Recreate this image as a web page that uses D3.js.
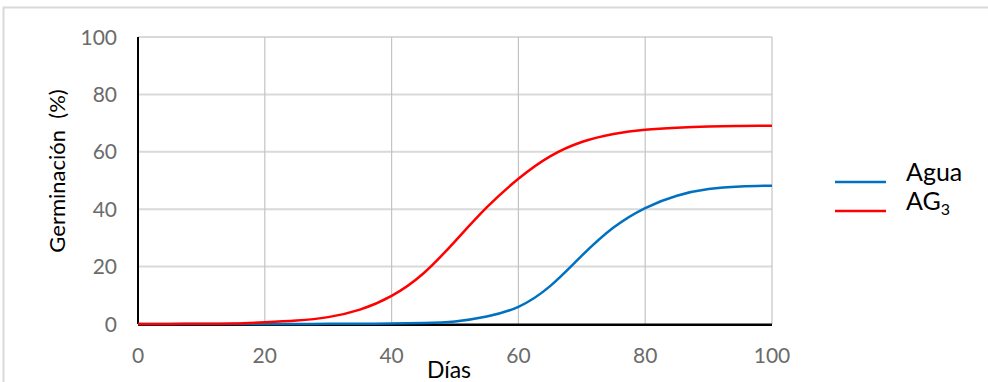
<!DOCTYPE html>
<html>
<head>
<meta charset="utf-8">
<script src="https://cdn.jsdelivr.net/npm/d3@7"></script>
<style>
  html, body { margin: 0; padding: 0; background: #fff; }
  svg { display: block; font-family: Lato, "Open Sans", sans-serif; }
</style>
</head>
<body>
<svg id="chart" width="988" height="382"></svg>
<script>
// Germination over time, days 0–100 every 5 days
const days = [0, 5, 10, 15, 20, 25, 30, 35, 40, 45, 50, 55, 60, 65, 70, 75, 80, 85, 90, 95, 100];
const agua = [0, 0, 0, 0, 0, 0.02, 0.05, 0.1, 0.15, 0.35, 0.9, 2.6, 6.0, 13.2, 23.8, 33.6, 40.4, 44.7, 47.0, 47.9, 48.2];
const ag3  = [0, 0.02, 0.08, 0.2, 0.6, 1.2, 2.4, 5.0, 9.8, 17.6, 28.8, 40.6, 50.6, 58.4, 63.4, 66.2, 67.7, 68.4, 68.8, 69.0, 69.1];
const xTicks = [0, 20, 40, 60, 80, 100];
const yTicks = [0, 20, 40, 60, 80, 100];
const seriesNames = ["Agua", "AG3"];
const seriesColors = ["#0070c0", "#ff0000"];

const svg = d3.select("#chart");

// outer chart frame
svg.append("rect")
  .attr("x", 3.5).attr("y", 7.5)
  .attr("width", 1000).attr("height", 400)
  .attr("fill", "none").attr("stroke", "#d9d9d9").attr("stroke-width", 2);

const x = d3.scaleLinear().domain([0, 100]).range([138, 772]);
const y = d3.scaleLinear().domain([0, 100]).range([324, 37]);

// horizontal gridlines
svg.append("g").selectAll("line").data(yTicks.filter(d => d > 0)).join("line")
  .attr("x1", x(0)).attr("x2", x(100))
  .attr("y1", d => y(d)).attr("y2", d => y(d))
  .attr("stroke", "#d9d9d9").attr("stroke-width", 2);

// vertical gridlines
svg.append("g").selectAll("line").data(xTicks.filter(d => d > 0)).join("line")
  .attr("x1", d => x(d)).attr("x2", d => x(d))
  .attr("y1", y(0)).attr("y2", y(100))
  .attr("stroke", "#c4c4c4").attr("stroke-width", 1.2);

// y tick labels
svg.append("g").selectAll("text").data(yTicks).join("text")
  .attr("x", 117).attr("y", d => y(d) + 7.5)
  .attr("text-anchor", "end")
  .attr("fill", "#6b6b6b").attr("font-size", 21)
  .text(d => d);

// x tick labels
svg.append("g").selectAll("text").data(xTicks).join("text")
  .attr("x", d => x(d)).attr("y", 363)
  .attr("text-anchor", "middle")
  .attr("fill", "#6b6b6b").attr("font-size", 21)
  .text(d => d);

// axis titles
svg.append("text")
  .attr("transform", `translate(65,${171}) rotate(-90)`)
  .attr("text-anchor", "middle")
  .attr("fill", "#000").attr("font-size", 22)
  .attr("xml:space", "preserve")
  .text("Germinación  (%)");

svg.append("text")
  .attr("x", 449).attr("y", 378)
  .attr("text-anchor", "middle")
  .attr("fill", "#000").attr("font-size", 23)
  .text("Días");

// axis lines (drawn beneath the series)
svg.append("line")
  .attr("x1", x(0)).attr("x2", x(100)).attr("y1", y(0) + 0.8).attr("y2", y(0) + 0.8)
  .attr("stroke", "#000").attr("stroke-width", 2.5);
svg.append("line")
  .attr("x1", x(0)).attr("x2", x(0)).attr("y1", y(100)).attr("y2", y(0))
  .attr("stroke", "#000").attr("stroke-width", 2);

// smoothed data lines
const line = d3.line()
  .x((d, i) => x(days[i]))
  .y(d => y(d))
  .curve(d3.curveNatural);

[agua, ag3].forEach((vals, k) => {
  svg.append("path")
    .datum(vals)
    .attr("d", line)
    .attr("fill", "none")
    .attr("stroke", seriesColors[k])
    .attr("stroke-width", 2.5);
});

// legend
const legend = svg.append("g");
const legendY = [182, 211];
seriesNames.forEach((name, k) => {
  legend.append("line")
    .attr("x1", 835).attr("x2", 886)
    .attr("y1", legendY[k]).attr("y2", legendY[k])
    .attr("stroke", seriesColors[k]).attr("stroke-width", 2.5);
  const t = legend.append("text")
    .attr("x", 906).attr("y", legendY[k] - 1)
    .attr("fill", "#000").attr("font-size", 25);
  if (name === "AG3") {
    t.append("tspan").text("AG");
    t.append("tspan").attr("font-size", 16).attr("dy", 5).text("3");
  } else {
    t.text(name);
  }
});
</script>
</body>
</html>
